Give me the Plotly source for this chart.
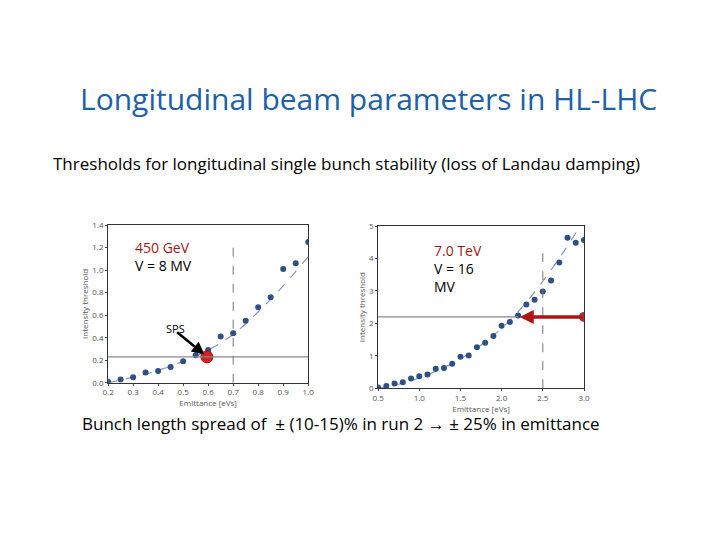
import plotly.graph_objects as go

# Left panel (450 GeV)
l_x = [0.2,0.25,0.3,0.35,0.4,0.45,0.5,0.55,0.6,0.65,0.7,0.75,0.8,0.85,0.9,0.95,1.0]
l_y = [0.01,0.03,0.05,0.09,0.105,0.14,0.19,0.245,0.29,0.41,0.44,0.55,0.67,0.76,1.01,1.06,1.25]
l_fit_x = [0.2,0.3,0.4,0.5,0.6,0.7,0.8,0.9,1.0]
l_fit_y = [0.0,0.05,0.11,0.19,0.29,0.43,0.63,0.86,1.12]
l_thr = 0.23
l_op = 0.595
# Right panel (7 TeV)
r_x = [0.5,0.6,0.7,0.8,0.9,1.0,1.1,1.2,1.3,1.4,1.5,1.6,1.7,1.8,1.9,2.0,2.1,2.2,2.3,2.4,2.5,2.6,2.7,2.8,2.9,3.0]
r_y = [0.02,0.07,0.14,0.18,0.3,0.37,0.42,0.6,0.62,0.75,0.97,1.01,1.26,1.4,1.61,1.93,2.04,2.24,2.58,2.73,2.98,3.32,3.88,4.64,4.49,4.57]
r_fit_x = [0.5,0.75,1.0,1.25,1.5,1.75,2.0,2.25,2.5,2.75,3.0]
r_fit_y = [0.0,0.12,0.32,0.58,0.9,1.33,1.85,2.5,3.3,4.2,5.2]
r_thr = 2.2
r_op = 3.0

blue = "#2f4f86"
fig = go.Figure()
fig.add_trace(go.Scatter(x=l_fit_x, y=l_fit_y, mode="lines", line=dict(color="#8896b4", dash="dash", width=1.2, shape="spline"), xaxis="x", yaxis="y"))
fig.add_trace(go.Scatter(x=l_x, y=l_y, mode="markers", marker=dict(color=blue, size=6), xaxis="x", yaxis="y"))
fig.add_trace(go.Scatter(x=[l_op], y=[l_thr], mode="markers", marker=dict(color="#d42020", size=12, line=dict(color="#a01010", width=1)), xaxis="x", yaxis="y"))
fig.add_trace(go.Scatter(x=r_fit_x, y=r_fit_y, mode="lines", line=dict(color="#8896b4", dash="dash", width=1.2, shape="spline"), xaxis="x2", yaxis="y2"))
fig.add_trace(go.Scatter(x=r_x, y=r_y, mode="markers", marker=dict(color=blue, size=6), xaxis="x2", yaxis="y2"))
fig.add_trace(go.Scatter(x=[r_op], y=[r_thr], mode="markers", marker=dict(color="#b03030", size=10), xaxis="x2", yaxis="y2"))

ax = dict(showgrid=False, zeroline=False, showline=True, linecolor="#333", linewidth=1, mirror=True, automargin=False,
          ticks="outside", ticklen=2, tickfont=dict(size=8, color="#555"), title_font=dict(size=8, color="#555"))
fig.update_layout(
    width=720, height=540, margin=dict(l=0, r=0, t=0, b=0, autoexpand=False), showlegend=False,
    paper_bgcolor="white", plot_bgcolor="white", font=dict(family="Open Sans"),
    xaxis=dict(ax, domain=[0.139, 0.417], range=[0.2, 1.0], dtick=0.1, tickformat=".1f", title=dict(text="Emittance [eVs]", standoff=2), anchor="y"),
    yaxis=dict(ax, domain=[0.306, 0.598], range=[0, 1.4], dtick=0.2, tickformat=".1f", title=dict(text="Intensity threshold", standoff=2), anchor="x"),
    xaxis2=dict(ax, domain=[0.514, 0.8], range=[0.5, 3.0], dtick=0.5, tickformat=".1f", title=dict(text="Emittance [eVs]", standoff=2), anchor="y2"),
    yaxis2=dict(ax, domain=[0.296, 0.596], range=[0, 5], dtick=1, title=dict(text="Intensity threshold", standoff=2), anchor="x2"),
)
fig.add_shape(type="line", xref="x", yref="y", x0=0.2, x1=1.0, y0=l_thr, y1=l_thr, line=dict(color="#888", width=1.2))
fig.add_shape(type="line", xref="x", yref="y", x0=0.7, x1=0.7, y0=0, y1=1.2, line=dict(color="#777", width=1, dash="dash"))
fig.add_shape(type="line", xref="x2", yref="y2", x0=0.5, x1=2.2, y0=r_thr, y1=r_thr, line=dict(color="#888", width=1.2))
fig.add_shape(type="line", xref="x2", yref="y2", x0=2.5, x1=2.5, y0=0, y1=4.3, line=dict(color="#777", width=1, dash="dash"))
fig.add_annotation(x=l_op-0.01, y=l_thr+0.02, ax=0.47, ay=0.46, xref="x", yref="y", axref="x", ayref="y",
                   showarrow=True, arrowhead=2, arrowwidth=2.5, arrowcolor="black", text="")
fig.add_annotation(x=0.47, y=0.48, xref="x", yref="y", text="SPS", showarrow=False, font=dict(size=11, color="black"))
fig.add_annotation(x=2.22, y=r_thr, ax=r_op, ay=r_thr, xref="x2", yref="y2", axref="x2", ayref="y2",
                   showarrow=True, arrowhead=2, arrowwidth=3.5, arrowsize=0.8, arrowcolor="#b01515", text="")
fig.add_annotation(x=0.3, y=1.3, xref="x", yref="y", xanchor="left", yanchor="top", align="left", showarrow=False,
                   text="<span style='color:#a01818'>450 GeV</span><br>V = 8 MV", font=dict(size=14, color="black"))
fig.add_annotation(x=1.15, y=4.6, xref="x2", yref="y2", xanchor="left", yanchor="top", align="left", showarrow=False,
                   text="<span style='color:#a01818'>7.0 TeV</span><br>V = 16<br>MV", font=dict(size=14, color="black"))
fig.add_annotation(x=0.5, y=0.875, xref="paper", yref="paper", showarrow=False,
                   text="Longitudinal beam parameters in HL-LHC", font=dict(size=30, color="#2060a8", family="Open Sans"))
fig.add_annotation(x=0.06, y=0.737, xref="paper", yref="paper", xanchor="left", showarrow=False,
                   text="Thresholds for longitudinal single bunch stability (loss of Landau damping)", font=dict(size=17, color="black"))
fig.add_annotation(x=0.1, y=0.205, xref="paper", yref="paper", xanchor="left", showarrow=False,
                   text="Bunch length spread of  ± (10-15)% in run 2 → ± 25% in emittance", font=dict(size=17, color="black"))
fig.write_html("out.html")
